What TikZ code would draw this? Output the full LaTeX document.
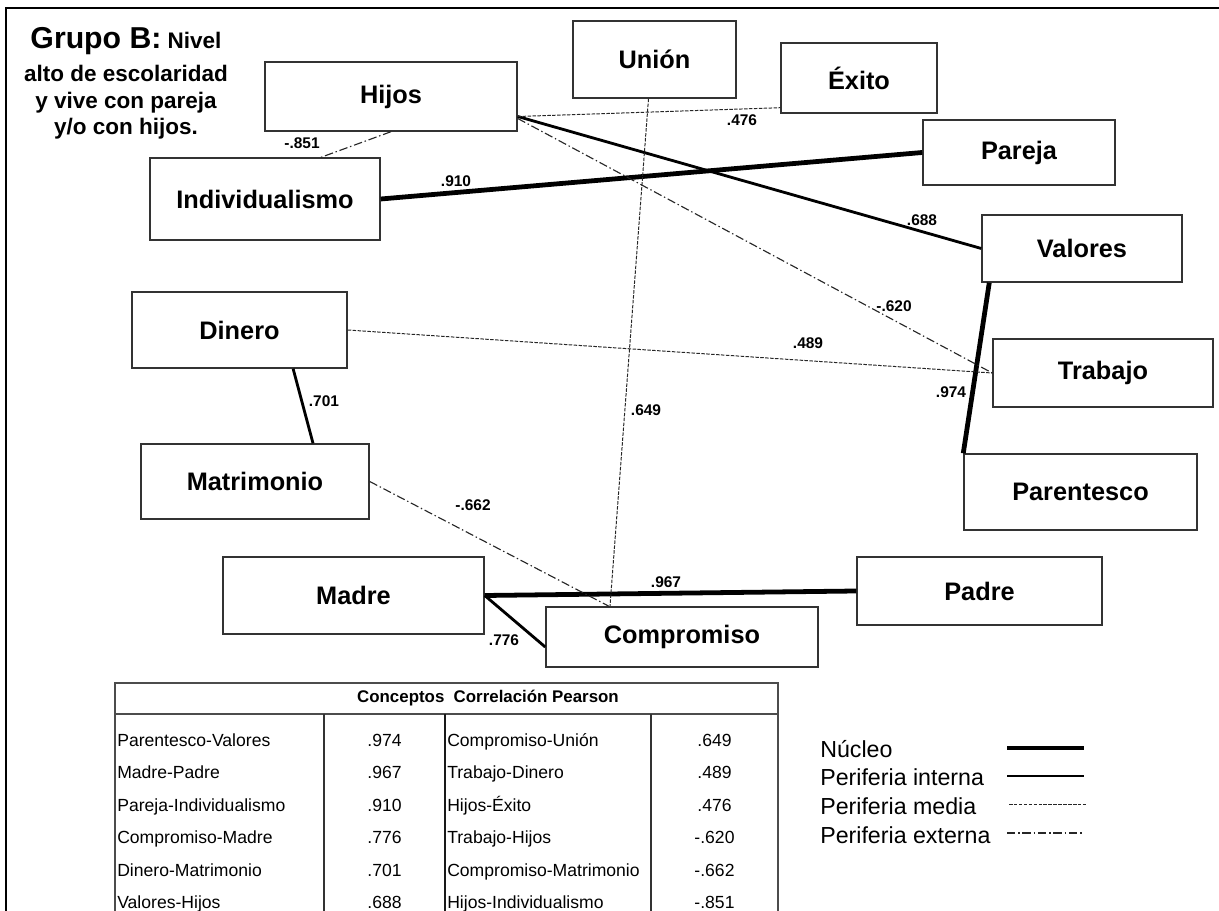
\documentclass[tikz,border=0pt]{standalone}
\usepackage{fontspec}
\setmainfont{Liberation Sans}

\tikzset{
  concepto/.style={draw=black!80, line width=1pt, inner sep=0pt, font=\fontsize{18}{21}\selectfont\bfseries},
  etiq/.style={inner sep=0pt, font=\fontsize{11}{12}\selectfont\bfseries},
  nucleo/.style={line width=3.4pt},
  interna/.style={line width=2pt},
  media/.style={line width=0.7pt, black!85, dash pattern=on 2.5pt off 1pt},
  externa/.style={line width=0.8pt, black!85, dash pattern=on 6pt off 2pt on 1pt off 2pt},
  celda/.style={inner sep=0pt, anchor=base, font=\fontsize{12.5}{14}\selectfont},
  leyenda/.style={inner sep=0pt, anchor=west, font=\fontsize{16.5}{18}\selectfont}
}

\begin{document}
\begin{tikzpicture}[x=0.025cm, y=-0.025cm]
            \useasboundingbox (0,0) rectangle (1219,911);
            % Frame
            \draw[line width=2pt] (6,911) -- (6,8) -- (1219,8);

            % Title
            \node (titulo) at (126,27.4) [anchor=north, align=center, inner sep=0pt, font=\fontsize{16}{18.9}\selectfont\bfseries]
                {{\fontsize{21.5}{24}\selectfont Grupo B:} Nivel\\[4.5pt] alto de escolaridad\\ y vive con pareja\\ y/o con hijos.};

            % Concepts
            \node (Union) at (654.5,59.5) [concepto, minimum width=4.075cm, minimum height=1.925cm] {Unión};
            \node (Hijos) at (391,96.5) [concepto, minimum width=6.3cm, minimum height=1.725cm] {Hijos};
            \node (Exito) at (859,78) [concepto, minimum width=3.9cm, minimum height=1.75cm] {Éxito};
            \node (Indiv) at (265,199) [concepto, minimum width=5.75cm, minimum height=2.05cm] {Individualismo};
            \node (Pareja) at (1019,152.5) [concepto, minimum width=4.8cm, minimum height=1.625cm] {Pareja};
            \node (Valores) at (1082,248.5) [concepto, minimum width=5cm, minimum height=1.675cm] {Valores};
            \node (Dinero) at (239.5,330) [concepto, minimum width=5.375cm, minimum height=1.9cm] {Dinero};
            \node (Trabajo) at (1103,373) [concepto, minimum width=5.5cm, minimum height=1.7cm] {Trabajo};
            \node (Matrimonio) at (255,481.5) [concepto, minimum width=5.7cm, minimum height=1.875cm] {Matrimonio};
            \node (Parentesco) at (1080.5,492) [concepto, minimum width=5.825cm, minimum height=1.9cm] {Parentesco};
            \node (Madre) at (353.5,595.5) [concepto, minimum width=6.525cm, minimum height=1.925cm] {Madre};
            \node (Padre) at (979.5,591) [concepto, minimum width=6.125cm, minimum height=1.7cm] {Padre};
            \node (Compromiso) at (682,637) [concepto, minimum width=6.8cm, minimum height=1.5cm] {Compromiso};

            % Nucleo
            \draw[nucleo] (Indiv.east) -- (Pareja.west);
            \draw[nucleo] ([xshift=0.2cm]Valores.south west) -- (Parentesco.north west);
            \draw[nucleo] (Madre.east) -- (Padre.west);

            % Periferia interna
            \draw[interna] ([yshift=-0.5cm]Hijos.east) -- (Valores.west);
            \draw[interna] ([xshift=1.34cm]Dinero.south) -- ([xshift=1.45cm]Matrimonio.north);
            \draw[interna] (Madre.east) -- ([yshift=-0.25cm]Compromiso.west);

            % Periferia media
            \draw[media] ([xshift=-0.15cm]Union.south) -- ([xshift=-1.8cm]Compromiso.north);
            \draw[media] ([yshift=-0.5cm]Hijos.east) -- ([yshift=0.15cm]Exito.south west);
            \draw[media] (Dinero.east) -- (Trabajo.west);

            % Periferia externa
            \draw[externa] ([yshift=-0.55cm]Hijos.east) -- (Trabajo.west);
            \draw[externa] (Hijos.south) -- ([xshift=1.4cm]Indiv.north);
            \draw[externa] (Matrimonio.east) -- ([xshift=-1.825cm]Compromiso.north);

            % Correlations on the edges
            \node (c910) at (456,181) [etiq] {.910};
            \node (c974) at (951,392) [etiq] {.974};
            \node (c967) at (666,582) [etiq] {.967};
            \node (c688) at (922,220) [etiq] {.688};
            \node (c701) at (324,401) [etiq] {.701};
            \node (c776) at (504,640) [etiq] {.776};
            \node (c649) at (646,410) [etiq] {.649};
            \node (c476) at (742,120) [etiq] {.476};
            \node (c489) at (808,343) [etiq] {.489};
            \node (c620) at (894,306) [etiq] {-.620};
            \node (c851) at (302,143) [etiq] {-.851};
            \node (c662) at (473,505) [etiq] {-.662};

            % Table
            \draw[black!70, line width=0.8pt] (115,911) -- (115,683) -- (778,683) -- (778,911);
            \draw[black!70, line width=0.8pt] (115,714) -- (778,714);
            \draw[black!80, line width=0.8pt] (324,714) -- (324,911);
            \draw[black!90, line width=1.3pt] (445,714) -- (445,911);
            \draw[black!80, line width=0.8pt] (651,714) -- (651,911);
            \node (cabecera) at (488,698) [inner sep=0pt, font=\fontsize{12}{14}\selectfont\bfseries] {Conceptos\ \ Correlación Pearson};

            \node (t1a) at (117,746) [celda, anchor=base west] {Parentesco-Valores};
            \node (t1b) at (384.5,746) [celda] {.974};
            \node (t1c) at (447,746) [celda, anchor=base west] {Compromiso-Unión};
            \node (t1d) at (714.5,746) [celda] {.649};

            \node (t2a) at (117,778.5) [celda, anchor=base west] {Madre-Padre};
            \node (t2b) at (384.5,778.5) [celda] {.967};
            \node (t2c) at (447,778.5) [celda, anchor=base west] {Trabajo-Dinero};
            \node (t2d) at (714.5,778.5) [celda] {.489};

            \node (t3a) at (117,811) [celda, anchor=base west] {Pareja-Individualismo};
            \node (t3b) at (384.5,811) [celda] {.910};
            \node (t3c) at (447,811) [celda, anchor=base west] {Hijos-Éxito};
            \node (t3d) at (714.5,811) [celda] {.476};

            \node (t4a) at (117,843.5) [celda, anchor=base west] {Compromiso-Madre};
            \node (t4b) at (384.5,843.5) [celda] {.776};
            \node (t4c) at (447,843.5) [celda, anchor=base west] {Trabajo-Hijos};
            \node (t4d) at (714.5,843.5) [celda] {-.620};

            \node (t5a) at (117,876) [celda, anchor=base west] {Dinero-Matrimonio};
            \node (t5b) at (384.5,876) [celda] {.701};
            \node (t5c) at (447,876) [celda, anchor=base west] {Compromiso-Matrimonio};
            \node (t5d) at (714.5,876) [celda] {-.662};

            \node (t6a) at (117,908.5) [celda, anchor=base west] {Valores-Hijos};
            \node (t6b) at (384.5,908.5) [celda] {.688};
            \node (t6c) at (447,908.5) [celda, anchor=base west] {Hijos-Individualismo};
            \node (t6d) at (714.5,908.5) [celda] {-.851};

            % Legend
            \node (lnucleo) at (820,749) [leyenda] {Núcleo};
            \node (linterna) at (820,777) [leyenda] {Periferia interna};
            \node (lmedia) at (820,806) [leyenda] {Periferia media};
            \node (lexterna) at (820,835) [leyenda] {Periferia externa};
            \draw[nucleo] (1007,748) -- (1084,748);
            \draw[interna] (1007,776) -- (1084,776);
            \draw[media] (1009,804) -- (1086,804);
            \draw[externa] (1007,833) -- (1084,833);
        \end{tikzpicture}
\end{document}
